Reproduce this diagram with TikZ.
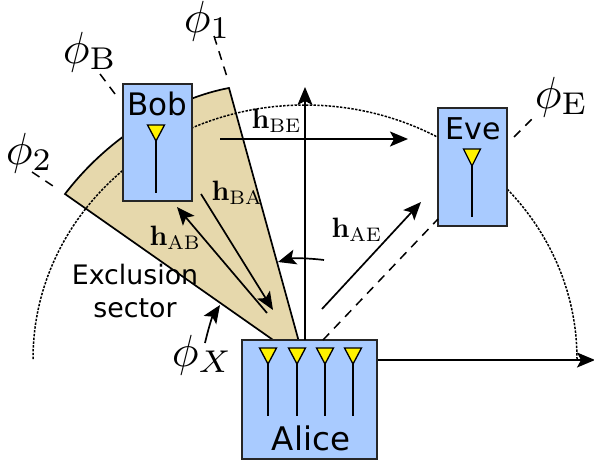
\documentclass[tikz,border=0pt]{standalone}
\usepackage[no-math]{fontspec}
\newfontfamily\djv{DejaVu Sans}
\usetikzlibrary{arrows.meta,calc}
\definecolor{boxblue}{HTML}{A9CBFF}
\definecolor{sand}{HTML}{E6D8AC}
\tikzset{
  ln/.style={line width=1.7pt,draw=black},
  arw/.style={ln,-{Stealth[length=18pt,width=15pt,inset=4pt]}},
  box/.style={draw=black!85,line width=1.6pt,fill=boxblue,inner sep=0pt,minimum width=#1},
  dsh/.style={line width=1.5pt,dash pattern=on 9pt off 7pt},
  dot/.style={line width=1.5pt,dash pattern=on 2.4pt off 1.4pt},
  sans/.style={font=\djv\fontsize{#1}{#1}\selectfont,anchor=base,inner sep=0pt},
  mth/.style={scale=4.5,transform shape,anchor=base west,inner sep=0pt},
  hlab/.style={scale=2.8,transform shape,anchor=base west,inner sep=0pt},
  ant/.style={draw=black,line width=1.3pt,fill=yellow,line join=miter},
}
\newcommand{\antenna}[4]{% x, top, tip, end
  \draw[ln] (#1,#3) -- (#1,#4);
  \draw[ant] (#1-8.5,#2) -- (#1+8.5,#2) -- (#1,#3) -- cycle;
}
\begin{document}
\begin{tikzpicture}[x=1pt,y=-1pt]
\useasboundingbox[fill=white] (0,0) rectangle (594,463);
% sector
\draw[ln,fill=sand,line join=miter] (65,194) .. controls (110,135) and (175,98) .. (229,88) -- (299,342) -- (276,342) -- cycle;
% dotted arc
\draw[dot] (33,359) arc[start angle=180,end angle=360,x radius=272,y radius=254];
% boxes
\node[box=69pt,minimum height=117pt] (bob) at (157.5,142.5) {};
\node[box=69pt,minimum height=118pt] (eve) at (472.5,167) {};
\node[box=135pt,minimum height=119pt] (alice) at (309.5,399.5) {};
% free ends
\coordinate (topy) at (305,87);
\coordinate (rightx) at (595,360);
\coordinate (s1) at (229,88);
\coordinate (l1) at (214,36);
\coordinate (b1) at (118,98);
\coordinate (b2) at (100,74);
\coordinate (t1) at (53,186);
\coordinate (t2) at (32,172);
\coordinate (e1) at (514,137);
\coordinate (e2) at (536,115);
\coordinate (be1) at (220,139);
\coordinate (be2) at (408,139);
\coordinate (ba1) at (201,194);
\coordinate (ba2) at (273,310);
\coordinate (ab1) at (267,313);
\coordinate (ab2) at (177,207);
\coordinate (ae1) at (322,309);
\coordinate (ae2) at (421,202);
\coordinate (da) at (323,340);
\coordinate (de) at (438,219);
\coordinate (ang1) at (324,260);
\coordinate (ang2) at (278,262);
\coordinate (x1) at (205,343);
\coordinate (x2) at (220,305);
% axes
\draw[arw] (305,340) -- (topy);
\draw[arw] (alice.east |- rightx) -- (rightx);
% dashed
\draw[dsh] (l1) -- ($(s1)+(-1,-8)$);
\draw[dsh] (b2) -- (b1);
\draw[dsh] (t2) -- (t1);
\draw[dsh] (e1) -- (e2);
\draw[dsh] (da) -- (de);
% channels
\draw[arw] (be1) -- (be2);
\draw[arw] (ba1) -- (ba2);
\draw[arw] (ab1) -- (ab2);
\draw[arw] (ae1) -- (ae2);
\draw[arw] (ang1) .. controls (308,258) and (292,258) .. (ang2);
\draw[arw] (x1) .. controls (208,330) and (212,317) .. (x2);
% antennas
\antenna{156}{125}{141}{193}
\antenna{472}{149}{166}{217}
\antenna{268}{348}{364}{416}
\antenna{297}{348}{364}{416}
\antenna{325}{348}{364}{416}
\antenna{353}{348}{364}{416}
% texts
\node[sans=31] (tbob) at (157,115) {Bob};
\node[sans=30] (teve) at (473,139) {Eve};
\node[sans=32.5] (talice) at (311,450) {Alice};
\node[sans=26.8] (tex) at (135,284) {Exclusion};
\node[sans=26.8] (tse) at (135,317) {sector};
\node[mth] (p1) at (183,32) {$\phi_{1}$};
\node[mth] (pb) at (62,63) {$\phi_{\mathrm{B}}$};
\node[mth] (p2) at (5,164) {$\phi_{2}$};
\node[mth] (pe) at (534,108) {$\phi_{\mathrm{E}}$};
\node[mth] (px) at (171,366) {$\phi_{X}$};
\node[hlab] (hbe) at (251,128) {$\mathbf{h}_{\mathrm{BE}}$};
\node[hlab] (hba) at (211,200) {$\mathbf{h}_{\mathrm{BA}}$};
\node[hlab] (hab) at (149,245) {$\mathbf{h}_{\mathrm{AB}}$};
\node[hlab] (hae) at (331,237) {$\mathbf{h}_{\mathrm{AE}}$};
\end{tikzpicture}
\end{document}
